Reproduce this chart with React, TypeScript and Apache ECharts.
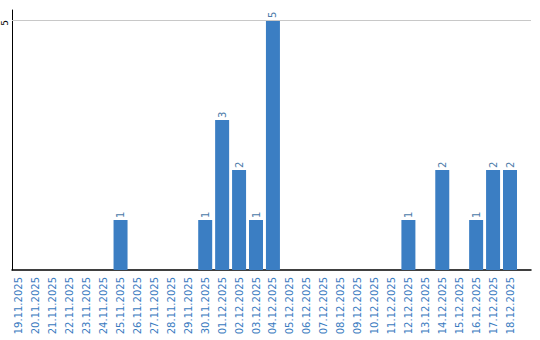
import React, { useEffect, useRef } from "react";
import * as echarts from "echarts";

const categories = [
  "19.11.2025", "20.11.2025", "21.11.2025", "22.11.2025", "23.11.2025",
  "24.11.2025", "25.11.2025", "26.11.2025", "27.11.2025", "28.11.2025",
  "29.11.2025", "30.11.2025", "01.12.2025", "02.12.2025", "03.12.2025",
  "04.12.2025", "05.12.2025", "06.12.2025", "07.12.2025", "08.12.2025",
  "09.12.2025", "10.12.2025", "11.12.2025", "12.12.2025", "13.12.2025",
  "14.12.2025", "15.12.2025", "16.12.2025", "17.12.2025", "18.12.2025",
];
const values = [
  0, 0, 0, 0, 0, 0, 1, 0, 0, 0,
  0, 1, 3, 2, 1, 5, 0, 0, 0, 0,
  0, 0, 0, 1, 0, 2, 0, 1, 2, 2,
];
const yTicks = [5];

export default function App() {
  const ref = useRef<HTMLDivElement>(null);
  useEffect(() => {
    document.body.style.margin = "0";
    const chart = echarts.init(ref.current!, null, { renderer: "svg" });
    const data = values.map((v, i) => [i, v]).filter((d) => d[1] > 0);
    chart.setOption({
      animation: false,
      grid: { left: 10, right: 9, top: 10, bottom: 70, containLabel: false },
      xAxis: {
        type: "value",
        min: -0.41,
        max: 30.24,
        axisLine: { show: true, onZero: false, lineStyle: { color: "#000", width: 1.5 } },
        axisTick: { show: false },
        splitLine: { show: false },
        axisLabel: {
          customValues: categories.map((_, i) => i),
          formatter: (v: number) => categories[Math.round(v)] ?? "",
          rotate: 90,
          margin: 7,
          color: "#3a7bbf",
          fontFamily: "DejaVu Sans",
          fontSize: 10,
        },
      },
      yAxis: {
        type: "value",
        min: 0,
        max: 5.2,
        axisLine: { show: true, onZero: false, lineStyle: { color: "#000", width: 1 } },
        axisTick: { show: false },
        splitLine: { show: false },
        axisLabel: {
          customValues: yTicks,
          formatter: (v: number) => String(v),
          rotate: 90,
          margin: 3,
          align: "right",
          verticalAlign: "bottom",
          color: "#000",
          fontFamily: "DejaVu Sans",
          fontSize: 9,
        },
      },
      series: [
        {
          type: "bar",
          data,
          barWidth: 14,
          itemStyle: { color: "#3b7ec3" },
          label: {
            show: true,
            position: "top",
            rotate: 90,
            align: "left",
            verticalAlign: "middle",
            distance: 2,
            color: "#4a7aa8",
            fontFamily: "DejaVu Sans",
            fontSize: 10,
          },
          markLine: {
            silent: true,
            symbol: "none",
            label: { show: false },
            lineStyle: { color: "#c8c8c8", width: 1, type: "solid" },
            data: yTicks.map((t) => ({ yAxis: t })),
          },
        },
      ],
    });
    return () => chart.dispose();
  }, []);
  return <div ref={ref} style={{ width: 540, height: 340 }} />;
}
